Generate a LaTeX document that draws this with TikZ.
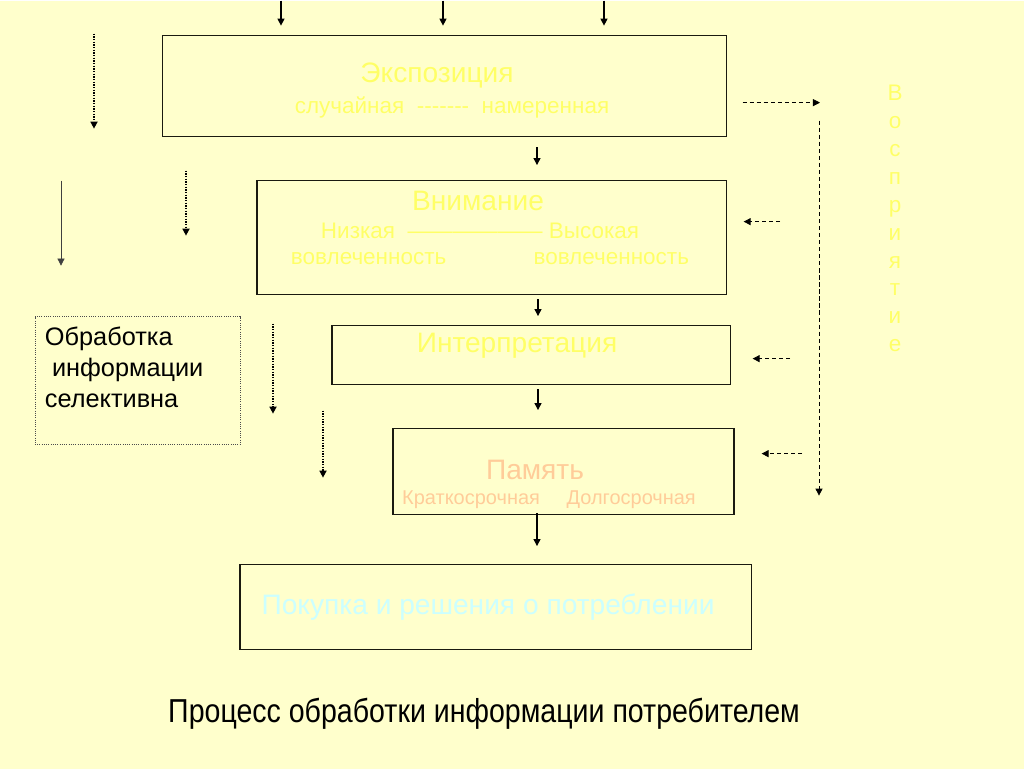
\documentclass[tikz,border=0pt]{standalone}
\usepackage{fontspec}
\setmainfont{Liberation Sans}
\newfontfamily\narrowfont[FakeStretch=0.86]{Liberation Sans}
\usetikzlibrary{arrows.meta,positioning,calc}
\definecolor{paper}{HTML}{FFFFCC}
\definecolor{lemon}{HTML}{FFFF66}
\definecolor{peach}{HTML}{FFCC99}
\definecolor{ice}{HTML}{CCFFFF}
\definecolor{frame}{HTML}{1A1A10}

\begin{document}
\begin{tikzpicture}[x=0.025cm,y=-0.025cm,
    stage/.style={draw=frame,line width=0.8pt,inner sep=0pt},
    head/.style={lemon,font=\fontsize{20}{24}\selectfont},
    sub/.style={lemon,font=\fontsize{16}{19}\selectfont},
    arr/.style={-{Triangle[length=5pt,width=5pt]},line width=0.9pt},
    dotarr/.style={arr,densely dotted,line width=1.1pt},
    dasharr/.style={arr,dash pattern=on 3pt off 2pt,line width=0.6pt}]
    \fill[paper] (0,0) rectangle (1024,768);
    % main chain of boxes
    \node[stage,minimum width=14.075cm,minimum height=2.525cm] (expo) at (444.5,85.5) {};
    \node[stage,minimum width=11.725cm,minimum height=2.85cm] (att) at (491.5,237) {};
    \node[stage,minimum width=9.95cm,minimum height=1.475cm] (interp) at (531,354.5) {};
    \node[stage,minimum width=8.525cm,minimum height=2.15cm] (mem) at (563.5,471) {};
    \node[stage,minimum width=12.775cm,minimum height=2.125cm] (buy) at (495.5,606.5) {};
    \node[draw=black!70,densely dotted,line width=0.6pt,inner sep=0pt,
          minimum width=5.125cm,minimum height=3.2cm] (sel) at (137.5,380) {};
    % texts in the boxes
    \node[head] (expoT) at (437,75) {Экспозиция};
    \node[sub] (expoS) at (452,107) {случайная \ ‐‐‐‐‐‐‐\ \ намеренная};
    \node[head] (attT) at (478,200) {Внимание};
    \node[sub] (attL) at (480,230) {Низкая \ —————— Высокая};
    \node[sub] (attS) at (490,258) {вовлеченность\hspace{62pt}вовлеченность};
    \node[head] (interpT) at (517,345) {Интерпретация};
    \node[head,peach] (memT) at (535,469) {Память};
    \node[sub,peach,font=\fontsize{14.2}{17}\selectfont] (memS) at (549,499)
      {Краткосрочная\hspace{19pt}Долгосрочная};
    \node[head,ice] (buyT) at (488,606) {Покупка и решения о потреблении};
    \node[anchor=west,align=left,font=\fontsize{18}{22}\selectfont] (selT) at (40,367)
      {Обработка\\ \ информации\\селективна};
    \node[lemon,align=center,font=\fontsize{16}{19.8}\selectfont] (percT) at (895,218)
      {В\\о\\с\\п\\р\\и\\я\\т\\и\\е};
    \node[font=\narrowfont\fontsize{23.6}{28}\selectfont] (title) at (484,713)
      {Процесс обработки информации потребителем};
    % arrows from the top
    \foreach \x in {281,443,604}
      \draw[arr] (\x,0) -- (\x,25);
    % arrows between the stages
    \draw[arr,shorten <=0.25cm,shorten >=0.375cm] (537,0 |- expo.south) -- (537,0 |- att.north);
    \draw[arr,shorten <=0.1cm,shorten >=0.225cm] (538,0 |- att.south) -- (538,0 |- interp.north);
    \draw[arr,shorten <=0.1cm,shorten >=0.45cm] (538,0 |- interp.south) -- (538,0 |- mem.north);
    \draw[arr,shorten <=-0.05cm,shorten >=0.45cm] (537,0 |- mem.south) -- (537,0 |- buy.north);
    % dotted arrows on the left
    \foreach \x/\ya/\yb in {94/33/128,186/170/235,273/323/413,323/410/477}
      \draw[dotarr] (\x,\ya) -- (\x,\yb);
    \draw[arr,line width=0.4pt,black!75] (61,180) -- (61,265);
    % perception side
    \coordinate (vtop) at (819,120);
    \coordinate (vbot) at (819,495);
    \coordinate (hend) at (820,102);
    \draw[dasharr,shorten <=0.4cm] (expo.east |- hend) -- (hend);
    \draw[dasharr] (vtop) -- (vbot);
    \draw[dasharr,shorten >=0.425cm] (780,221) -- (att.east |- 0,221);
    \draw[dasharr,shorten >=0.55cm] (790,358) -- (interp.east |- 0,358);
    \draw[dasharr,shorten >=0.675cm] (802,453) -- (mem.east |- 0,453);
\end{tikzpicture}
\end{document}
